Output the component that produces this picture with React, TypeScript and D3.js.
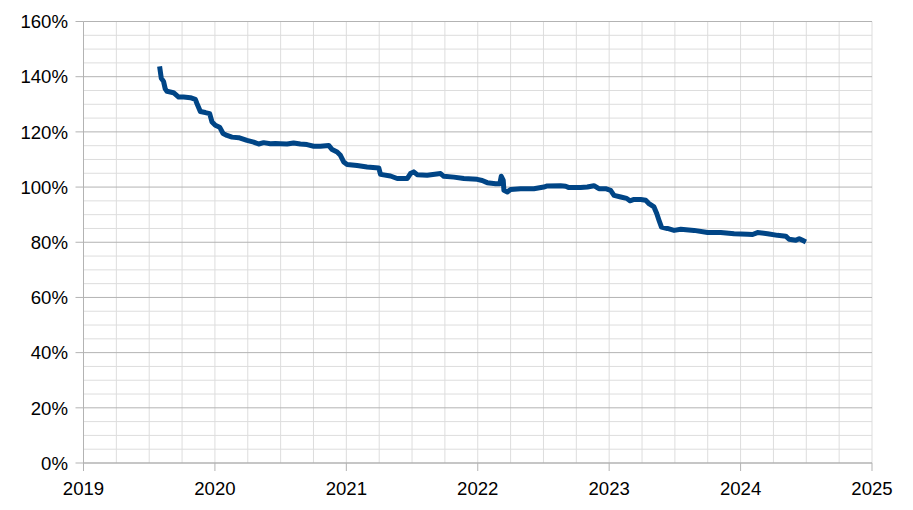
import React from "react";
import * as d3 from "d3";

const years: number[] = [
  2019.579, 2019.592, 2019.609, 2019.622, 2019.635, 2019.685, 2019.724, 2019.762, 2019.813, 2019.851,
  2019.864, 2019.889, 2019.927, 2019.96, 2019.978, 2020.003, 2020.036, 2020.062, 2020.092, 2020.13,
  2020.181, 2020.244, 2020.295, 2020.333, 2020.371, 2020.422, 2020.46, 2020.498, 2020.549, 2020.599,
  2020.65, 2020.701, 2020.752, 2020.803, 2020.866, 2020.892, 2020.93, 2020.955, 2020.98, 2021.006,
  2021.082, 2021.158, 2021.247, 2021.26, 2021.336, 2021.387, 2021.463, 2021.488, 2021.513, 2021.539,
  2021.615, 2021.717, 2021.742, 2021.818, 2021.894, 2021.996, 2022.034, 2022.072, 2022.136, 2022.168,
  2022.179, 2022.194, 2022.199, 2022.225, 2022.25, 2022.326, 2022.427, 2022.503, 2022.529, 2022.63,
  2022.669, 2022.694, 2022.783, 2022.834, 2022.884, 2022.922, 2022.973, 2023.011, 2023.037, 2023.088,
  2023.133, 2023.158, 2023.189, 2023.24, 2023.278, 2023.303, 2023.341, 2023.362, 2023.379, 2023.398,
  2023.443, 2023.494, 2023.545, 2023.646, 2023.749, 2023.849, 2023.951, 2024.053, 2024.091, 2024.129,
  2024.205, 2024.281, 2024.344, 2024.369, 2024.42, 2024.446, 2024.471, 2024.497,
];

const values: number[] = [
  143.7, 139.4, 138.3, 135.6, 134.7, 134.2, 132.6, 132.6, 132.4, 131.8,
  130.2, 127.4, 127.0, 126.6, 123.6, 122.4, 121.7, 119.4, 118.7, 118.1,
  117.9, 116.9, 116.3, 115.6, 116.1, 115.7, 115.8, 115.7, 115.6, 116.0,
  115.6, 115.4, 114.8, 114.8, 115.1, 113.6, 112.7, 111.5, 109.1, 108.2,
  107.8, 107.3, 106.9, 104.6, 104.0, 103.1, 103.1, 104.9, 105.5, 104.5,
  104.3, 104.9, 103.9, 103.6, 103.1, 102.8, 102.4, 101.6, 101.2, 101.2,
  103.9, 102.4, 98.8, 98.2, 99.1, 99.4, 99.4, 100.0, 100.4, 100.5,
  100.3, 99.8, 99.8, 100.0, 100.5, 99.4, 99.4, 98.8, 97.0, 96.4,
  95.9, 95.0, 95.5, 95.5, 95.2, 94.0, 92.8, 90.4, 88.0, 85.5,
  85.0, 84.3, 84.7, 84.3, 83.5, 83.5, 83.1, 82.9, 82.8, 83.5,
  83.1, 82.5, 82.2, 81.1, 80.7, 81.3, 80.7, 80.1,
];

const xTickYears: number[] = [2019, 2020, 2021, 2022, 2023, 2024, 2025];
const yTickValues: number[] = [0, 20, 40, 60, 80, 100, 120, 140, 160];

const W = 913;
const H = 510;
const left = 83.5;
const right = 872;
const top = 21.5;
const bottom = 463;

export default function App() {
  const x = d3.scaleLinear().domain([2019, 2025]).range([left, right]);
  const y = d3.scaleLinear().domain([0, 160]).range([bottom, top]);

  const minorX = d3.range(2019, 2025.001, 0.25).filter((v) => Math.abs(v - Math.round(v)) > 1e-6);
  const minorY = d3.range(0, 160.001, 5).filter((v) => v % 20 !== 0);

  const line = d3
    .line<number>()
    .x((_, i) => x(years[i]))
    .y((v) => y(v));

  const font = "'Liberation Sans', Arial, sans-serif";

  return (
    <svg
      width={W}
      height={H}
      style={{ position: "absolute", left: 0, top: 0, background: "#fff" }}
    >
      <rect x={0} y={0} width={W} height={H} fill="#fff" />
      {minorX.map((v) => (
        <line key={"mx" + v} x1={x(v)} x2={x(v)} y1={top} y2={bottom} stroke="#dddddd" strokeWidth={1} />
      ))}
      {minorY.map((v) => (
        <line key={"my" + v} x1={left} x2={right} y1={y(v)} y2={y(v)} stroke="#dddddd" strokeWidth={1} />
      ))}
      {xTickYears.map((v) => (
        <line key={"gx" + v} x1={x(v)} x2={x(v)} y1={top} y2={bottom} stroke="#dddddd" strokeWidth={1} />
      ))}
      {yTickValues.map((v) => (
        <line key={"gy" + v} x1={left} x2={right} y1={y(v)} y2={y(v)} stroke="#b3b3b3" strokeWidth={1} />
      ))}
      {/* axes */}
      <line x1={left} x2={left} y1={top} y2={bottom} stroke="#b3b3b3" strokeWidth={1} />
      <line x1={left} x2={right} y1={bottom} y2={bottom} stroke="#b3b3b3" strokeWidth={1} />
      {yTickValues.map((v) => (
        <g key={"ty" + v}>
          <line x1={left - 8} x2={left} y1={y(v)} y2={y(v)} stroke="#b3b3b3" strokeWidth={1} />
          <text
            x={68}
            y={y(v)}
            dy="0.36em"
            textAnchor="end"
            fontFamily={font}
            fontSize={18.6}
            fill="#000"
          >
            {v}%
          </text>
        </g>
      ))}
      {xTickYears.map((v) => (
        <g key={"tx" + v}>
          <line x1={x(v)} x2={x(v)} y1={bottom} y2={bottom + 8} stroke="#b3b3b3" strokeWidth={1} />
          <text x={x(v)} y={495} textAnchor="middle" fontFamily={font} fontSize={18.6} fill="#000">
            {v}
          </text>
        </g>
      ))}
      <path
        d={line(values) || ""}
        fill="none"
        stroke="#004586"
        strokeWidth={5}
        strokeLinejoin="round"
        strokeLinecap="butt"
      />
    </svg>
  );
}
